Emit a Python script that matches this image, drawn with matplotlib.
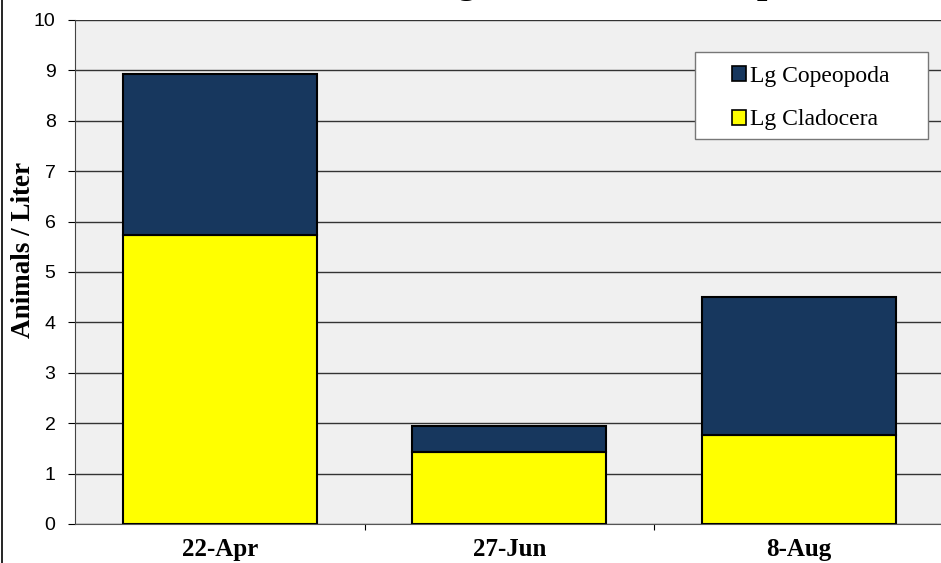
import matplotlib.pyplot as plt
from matplotlib.patches import Patch, Rectangle
from matplotlib.lines import Line2D

dates = ['22-Apr', '27-Jun', '8-Aug']
cladocera = [5.73, 1.43, 1.77]
copepoda = [3.20, 0.51, 2.73]
y_ticks = list(range(0, 11))

navy = '#17375E'
yellow = '#FFFF00'
serif = ['Times New Roman', 'Liberation Serif', 'DejaVu Serif']
sans = ['Arial', 'Liberation Sans', 'DejaVu Sans']

W, H = 941, 563
fig = plt.figure(figsize=(W / 100, H / 100), dpi=100)
fig.patch.set_facecolor('white')
# plot area: x 75..943 px, y 20..524 px
ax_w, ax_h = 868.5, 504
ax = fig.add_axes([75 / W, 1 - 524 / H, ax_w / W, ax_h / H])
ax.set_facecolor('#F0F0F0')

x = list(range(len(dates)))
ax.bar(x, cladocera, width=0.67, color=yellow, edgecolor='black', linewidth=1.5,
       label='Lg Cladocera', zorder=3)
ax.bar(x, copepoda, width=0.67, bottom=cladocera, color=navy, edgecolor='black',
       linewidth=1.5, label='Lg Copeopoda', zorder=3)

ax.set_xlim(-0.5, len(dates) - 0.5)
ax.set_ylim(0, 10)
ax.set_yticks(y_ticks)
ax.set_yticklabels([str(t) for t in y_ticks], family=sans, fontsize=14)
ax.yaxis.grid(True, color='#333333', linewidth=1.0, zorder=0)
ax.set_axisbelow(True)

# category labels between boundary ticks
ax.set_xticks([i + 0.5 for i in x[:-1]])
ax.set_xticklabels([])
ax.set_xticks(x, minor=True)
ax.set_xticklabels(dates, minor=True, family=serif, fontweight='bold', fontsize=18)
ax.tick_params(axis='x', which='minor', length=0, pad=10)
ax.tick_params(axis='x', which='major', length=4.5, direction='out', color='black')
ax.tick_params(axis='y', length=5, direction='out', pad=9)

for side in ['top', 'right']:
    ax.spines[side].set_visible(False)
ax.spines['left'].set_color('#444444')
ax.spines['bottom'].set_color('#555555')

ax.set_ylabel('Animals / Liter', family=serif, fontweight='bold', fontsize=19.5)
ax.yaxis.set_label_coords(-39 / ax_w, (524 - 250) / ax_h)

# legend box drawn at its pixel place, entries placed inside it
ax.add_patch(Rectangle(((695 - 75) / ax_w, (524 - 139) / ax_h), 233 / ax_w, 87 / ax_h,
                       transform=ax.transAxes, facecolor='white', edgecolor='#777777',
                       linewidth=1.0, zorder=4))
handles = [Patch(facecolor=navy, edgecolor='black', linewidth=1.2, label='Lg Copeopoda'),
           Patch(facecolor=yellow, edgecolor='black', linewidth=1.2, label='Lg Cladocera')]
leg = ax.legend(handles=handles, loc='upper left',
                bbox_to_anchor=((732 - 75) / ax_w, (524 - 66) / ax_h),
                prop={'family': serif, 'size': 17}, handlelength=0.6, handleheight=0.6,
                handletextpad=0.17, labelspacing=0.95, borderpad=0, borderaxespad=0,
                frameon=False)
leg.set_zorder(5)

# title is clipped by the top of the image, only descenders show
fig.text(0.69, 1 + 7 / H, 'Large Crustacean Zooplankton', family=serif,
         fontweight='bold', fontsize=27, ha='center', va='baseline')

# border line on the left edge
fig.add_artist(Line2D([2 / W, 2 / W], [0, 1], color='black', linewidth=1.2,
                      transform=fig.transFigure))

fig.savefig('out.png', dpi=100)
